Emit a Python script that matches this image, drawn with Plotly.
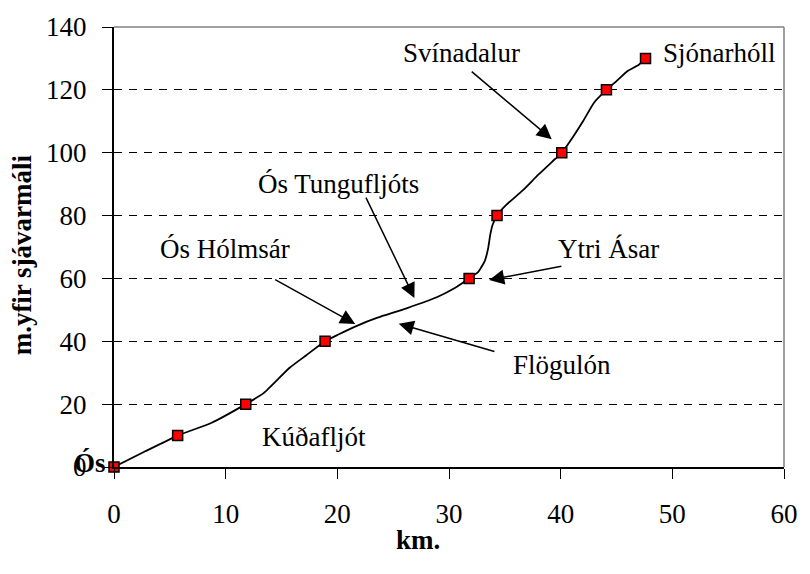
import plotly.graph_objects as go

# River profile: distance from the sea (km) and height above sea level (m)
profile_km = [0, 2.8, 5.7, 8.7, 11.8, 13.4, 15.7, 17.2, 18.9, 20.0, 21.8, 23.6,
              26.2, 28.9, 30.4, 31.8, 32.6, 33.2, 33.5, 33.7, 33.9, 34.3, 35.1,
              36.6, 38.0, 39.5, 40.1, 41.1, 42.0, 43.0, 44.1, 45.0, 46.0, 47.0, 47.6]
profile_m = [0, 5, 10, 14, 20, 23.5, 31.5, 35.5, 40, 42, 45, 47.5,
             50.5, 54, 56.7, 60, 62, 65.5, 69.5, 74, 77, 80, 83.3,
             88, 93, 98, 100, 105, 110, 116, 120, 122.8, 126, 128, 130]

# Marked stations along the profile
station_km = [0, 5.7, 11.8, 18.9, 31.8, 34.3, 40.1, 44.1, 47.6]
station_m = [0, 10, 20, 40, 60, 80, 100, 120, 130]

# Place names: label position and (optional) arrow tail -> arrow tip
names = ["Svínadalur", "Sjónarhóll", "Ós Tungufljóts", "Ós Hólmsár",
         "Ytri Ásar", "Flögulón", "Kúðafljót"]
name_x = [31.1, 49.0, 20.1, 9.9, 44.3, 40.1, 17.9]
name_y = [131.8, 131.8, 90.0, 69.5, 69.5, 32.4, 9.4]
name_anchor = ["center", "left", "center", "center", "center", "center", "center"]

arrow_tail_x = [31.9, None, 22.5, 14.3, 40.2, 34.2, None]
arrow_tail_y = [126.2, None, 86.2, 59.9, 64.0, 36.6, None]
arrow_tip_x = [39.2, None, 26.9, 21.6, 33.6, 25.5, None]
arrow_tip_y = [104.3, None, 53.8, 45.5, 59.5, 45.6, None]

x_ticks = [0, 10, 20, 30, 40, 50, 60]
y_ticks = [0, 20, 40, 60, 80, 100, 120, 140]

FONT = "Liberation Serif, Times New Roman, serif"

fig = go.Figure()
fig.add_trace(go.Scatter(
    x=profile_km, y=profile_m, mode="lines",
    line=dict(color="black", width=1.8, shape="spline", smoothing=0.5),
    hoverinfo="skip", showlegend=False))
fig.add_trace(go.Scatter(
    x=station_km, y=station_m, mode="markers",
    marker=dict(symbol="square", size=10, color="#FF0000",
                line=dict(color="black", width=1.5)),
    cliponaxis=False, showlegend=False))

annotations = []
for i, name in enumerate(names):
    annotations.append(dict(
        x=name_x[i], y=name_y[i], xref="x", yref="y", text=name,
        showarrow=False, xanchor=name_anchor[i], yanchor="middle",
        font=dict(family=FONT, size=27, color="black")))
    if arrow_tail_x[i] is not None:
        annotations.append(dict(
            x=arrow_tip_x[i], y=arrow_tip_y[i], xref="x", yref="y",
            ax=arrow_tail_x[i], ay=arrow_tail_y[i], axref="x", ayref="y",
            text="", showarrow=True, arrowhead=2, arrowsize=2.0,
            arrowwidth=1.5, arrowcolor="black", standoff=0, startstandoff=0))

# Mouth label at the origin
annotations.append(dict(
    x=-0.0088, y=0.009, xref="paper", yref="paper", text="<b>Ós</b>",
    showarrow=False, xanchor="right", yanchor="middle",
    font=dict(family=FONT, size=27, color="black")))

# Axis titles
annotations.append(dict(
    x=0.453, y=-0.166, xref="paper", yref="paper", text="<b>km.</b>",
    showarrow=False, xanchor="center", yanchor="middle",
    font=dict(family=FONT, size=27, color="black")))
annotations.append(dict(
    x=-0.136, y=0.483, xref="paper", yref="paper",
    text="<b>m.yfir sjávarmáli</b>", textangle=-90,
    showarrow=False, xanchor="center", yanchor="middle",
    font=dict(family=FONT, size=27, color="black")))

# Grey frame on the top and right of the plot area
shapes = [
    dict(type="line", xref="paper", yref="paper", x0=0, x1=1, y0=1, y1=1,
         line=dict(color="#808080", width=1.5), layer="below"),
    dict(type="line", xref="paper", yref="paper", x0=1, x1=1, y0=0, y1=1,
         line=dict(color="#808080", width=1.5), layer="below"),
]

fig.update_layout(
    width=810, height=574,
    margin=dict(l=114, r=18, t=22, b=107),
    paper_bgcolor="white", plot_bgcolor="white",
    font=dict(family=FONT, size=27, color="black"),
    annotations=annotations, shapes=shapes,
    xaxis=dict(range=[0, 60], tickvals=x_ticks, showgrid=False,
               zeroline=False, showline=True, linecolor="black", linewidth=2,
               ticks="outside", ticklen=10, tickcolor="black", tickwidth=1,
               ticklabelstandoff=12,
               tickfont=dict(family=FONT, size=27, color="black")),
    yaxis=dict(range=[0, 140], tickvals=y_ticks, showgrid=True,
               gridcolor="black", gridwidth=1, griddash="8px,7px",
               zeroline=False, showline=True, linecolor="black", linewidth=2,
               ticks="outside", ticklen=10, tickcolor="black", tickwidth=1,
               ticklabelstandoff=10,
               tickfont=dict(family=FONT, size=27, color="black")),
)

fig.write_html("out.html")
